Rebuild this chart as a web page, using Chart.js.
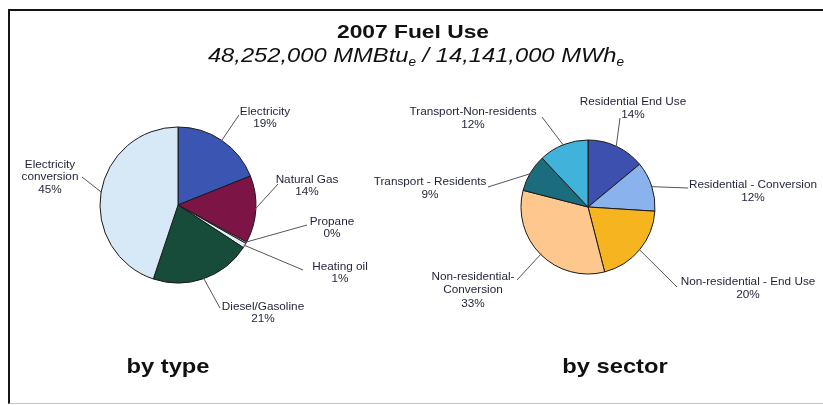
<!DOCTYPE html>
<html><head><meta charset="utf-8">
<script src="https://cdn.jsdelivr.net/npm/chart.js@4"></script>
<style>
html,body{margin:0;padding:0;background:#fff;width:823px;height:405px;overflow:hidden;font-family:"Liberation Sans",Arial,sans-serif}
#frame{position:absolute;left:8px;top:9px;width:830px;height:392px;border-left:2px solid #151515;border-top:2px solid #151515;border-bottom:1px solid #c4c4c4}
.txt{position:absolute;width:600px;text-align:center;white-space:nowrap;color:#111;transform-origin:center}
canvas{position:absolute;left:0;top:0}
</style></head><body>
<div id="frame"></div>
<canvas id="typeChart" width="823" height="405"></canvas>
<canvas id="sectorChart" width="823" height="405"></canvas>
<div class="txt" id="title" style="left:113px;top:22px;font-size:19px;line-height:19px;font-weight:bold;transform:scaleX(1.2)">2007 Fuel Use</div>
<div class="txt" id="subtitle" style="left:116px;top:44px;font-size:21px;line-height:21px;font-style:italic;transform:scaleX(1.13)">48,252,000 MMBtu<span style="font-size:12px;vertical-align:-4px">e</span> / 14,141,000 MWh<span style="font-size:12px;vertical-align:-4px">e</span></div>
<div class="txt" id="cap1" style="left:-132px;top:355px;font-size:21px;line-height:21px;font-weight:bold;transform:scaleX(1.13)">by type</div>
<div class="txt" id="cap2" style="left:315px;top:355px;font-size:21px;line-height:21px;font-weight:bold;transform:scaleX(1.13)">by sector</div>
<script>
// ---- data ----
const typeLabels = ["Electricity", "Natural Gas", "Propane", "Heating oil", "Diesel/Gasoline", "Electricity\nconversion"];
const typeValues = [19, 14, 0.3, 1, 21, 45];
const sectorLabels = ["Residential End Use", "Residential - Conversion", "Non-residential - End Use", "Non-residential-\nConversion", "Transport - Residents", "Transport-Non-residents"];
const sectorValues = [14, 12, 20, 33, 9, 12];

// ---- styles ----
const typeColors = ["#3a55b2", "#7c1546", "#f4f4f4", "#e4ecf6", "#174c3b", "#d7e8f7"];
const sectorColors = ["#3d50ad", "#8ab3ee", "#f6b41e", "#fdc78d", "#1b6c7c", "#41b2da"];

// label placement relative to pie centre (px at reference radius): text = first line centre, line = leader end
const typeLabelLayout = [
  {text:[87,-93], line:[61,-90]},
  {text:[129,-25], line:[100,-21]},
  {text:[154,17], line:[129,20]},
  {text:[162,62], line:[125,65]},
  {text:[85,102], line:[42,103]},
  {text:[-128,-40], line:[-96,-28]}
];
const sectorLabelLayout = [
  {text:[45,-105], line:[32,-89]},
  {text:[165,-22], line:[100,-19]},
  {text:[160,75], line:[89,80]},
  {text:[-115,70], line:[-71,73]},
  {text:[-158,-25], line:[-100,-20]},
  {text:[-115,-95], line:[-46,-90]}
];

const leaderLabels = {
  id: 'leaderLabels',
  afterDatasetsDraw(chart, args, opts) {
    const ctx = chart.ctx;
    const meta = chart.getDatasetMeta(0);
    const values = chart.data.datasets[0].data;
    const total = values.reduce((a, b) => a + b, 0);
    ctx.save();
    meta.data.forEach((arc, i) => {
      const p = arc.getProps(['x', 'y', 'startAngle', 'endAngle', 'outerRadius'], true);
      const mid = (p.startAngle + p.endAngle) / 2;
      const k = p.outerRadius / opts.refRadius;
      const ax = p.x + Math.cos(mid) * (p.outerRadius - 1);
      const ay = p.y + Math.sin(mid) * (p.outerRadius - 1);
      const L = opts.layout[i];
      const ex = p.x + L.line[0] * k, ey = p.y + L.line[1] * k;
      ctx.strokeStyle = '#555555';
      ctx.lineWidth = 1;
      ctx.beginPath();
      ctx.moveTo(ax, ay);
      ctx.lineTo(ex, ey);
      ctx.stroke();
      const lines = chart.data.labels[i].split('\n');
      lines.push(Math.round(values[i] / total * 100) + '%');
      ctx.fillStyle = '#1f2138';
      ctx.font = '10.5px "Liberation Sans", Arial, sans-serif';
      ctx.textAlign = 'center';
      ctx.textBaseline = 'middle';
      const tx = p.x + L.text[0] * k, ty = p.y + L.text[1] * k;
      lines.forEach((s, j) => {
        ctx.save();
        ctx.translate(tx, ty + j * opts.lineHeight);
        ctx.scale(1.12, 1);
        ctx.fillText(s, 0, 0);
        ctx.restore();
      });
    });
    ctx.restore();
  }
};

function makePie(id, labels, values, colors, radius, padding, layout, lh) {
  return new Chart(document.getElementById(id), {
    type: 'pie',
    data: {
      labels: labels,
      datasets: [{
        data: values,
        backgroundColor: colors,
        borderColor: '#1a1a1a',
        borderWidth: 1,
        hoverOffset: 0
      }]
    },
    options: {
      responsive: false,
      animation: false,
      devicePixelRatio: 1,
      radius: radius,
      layout: { padding: padding },
      events: [],
      plugins: {
        legend: { display: false },
        tooltip: { enabled: false },
        leaderLabels: { layout: layout, refRadius: radius, lineHeight: lh }
      }
    },
    plugins: [leaderLabels]
  });
}

makePie('typeChart', typeLabels, typeValues, typeColors, 78,
  {left: 0, right: 467, top: 5, bottom: 0}, typeLabelLayout, 12.5);
makePie('sectorChart', sectorLabels, sectorValues, sectorColors, 67,
  {left: 353, right: 0, top: 9, bottom: 0}, sectorLabelLayout, 13.5);
</script>
</body></html>
